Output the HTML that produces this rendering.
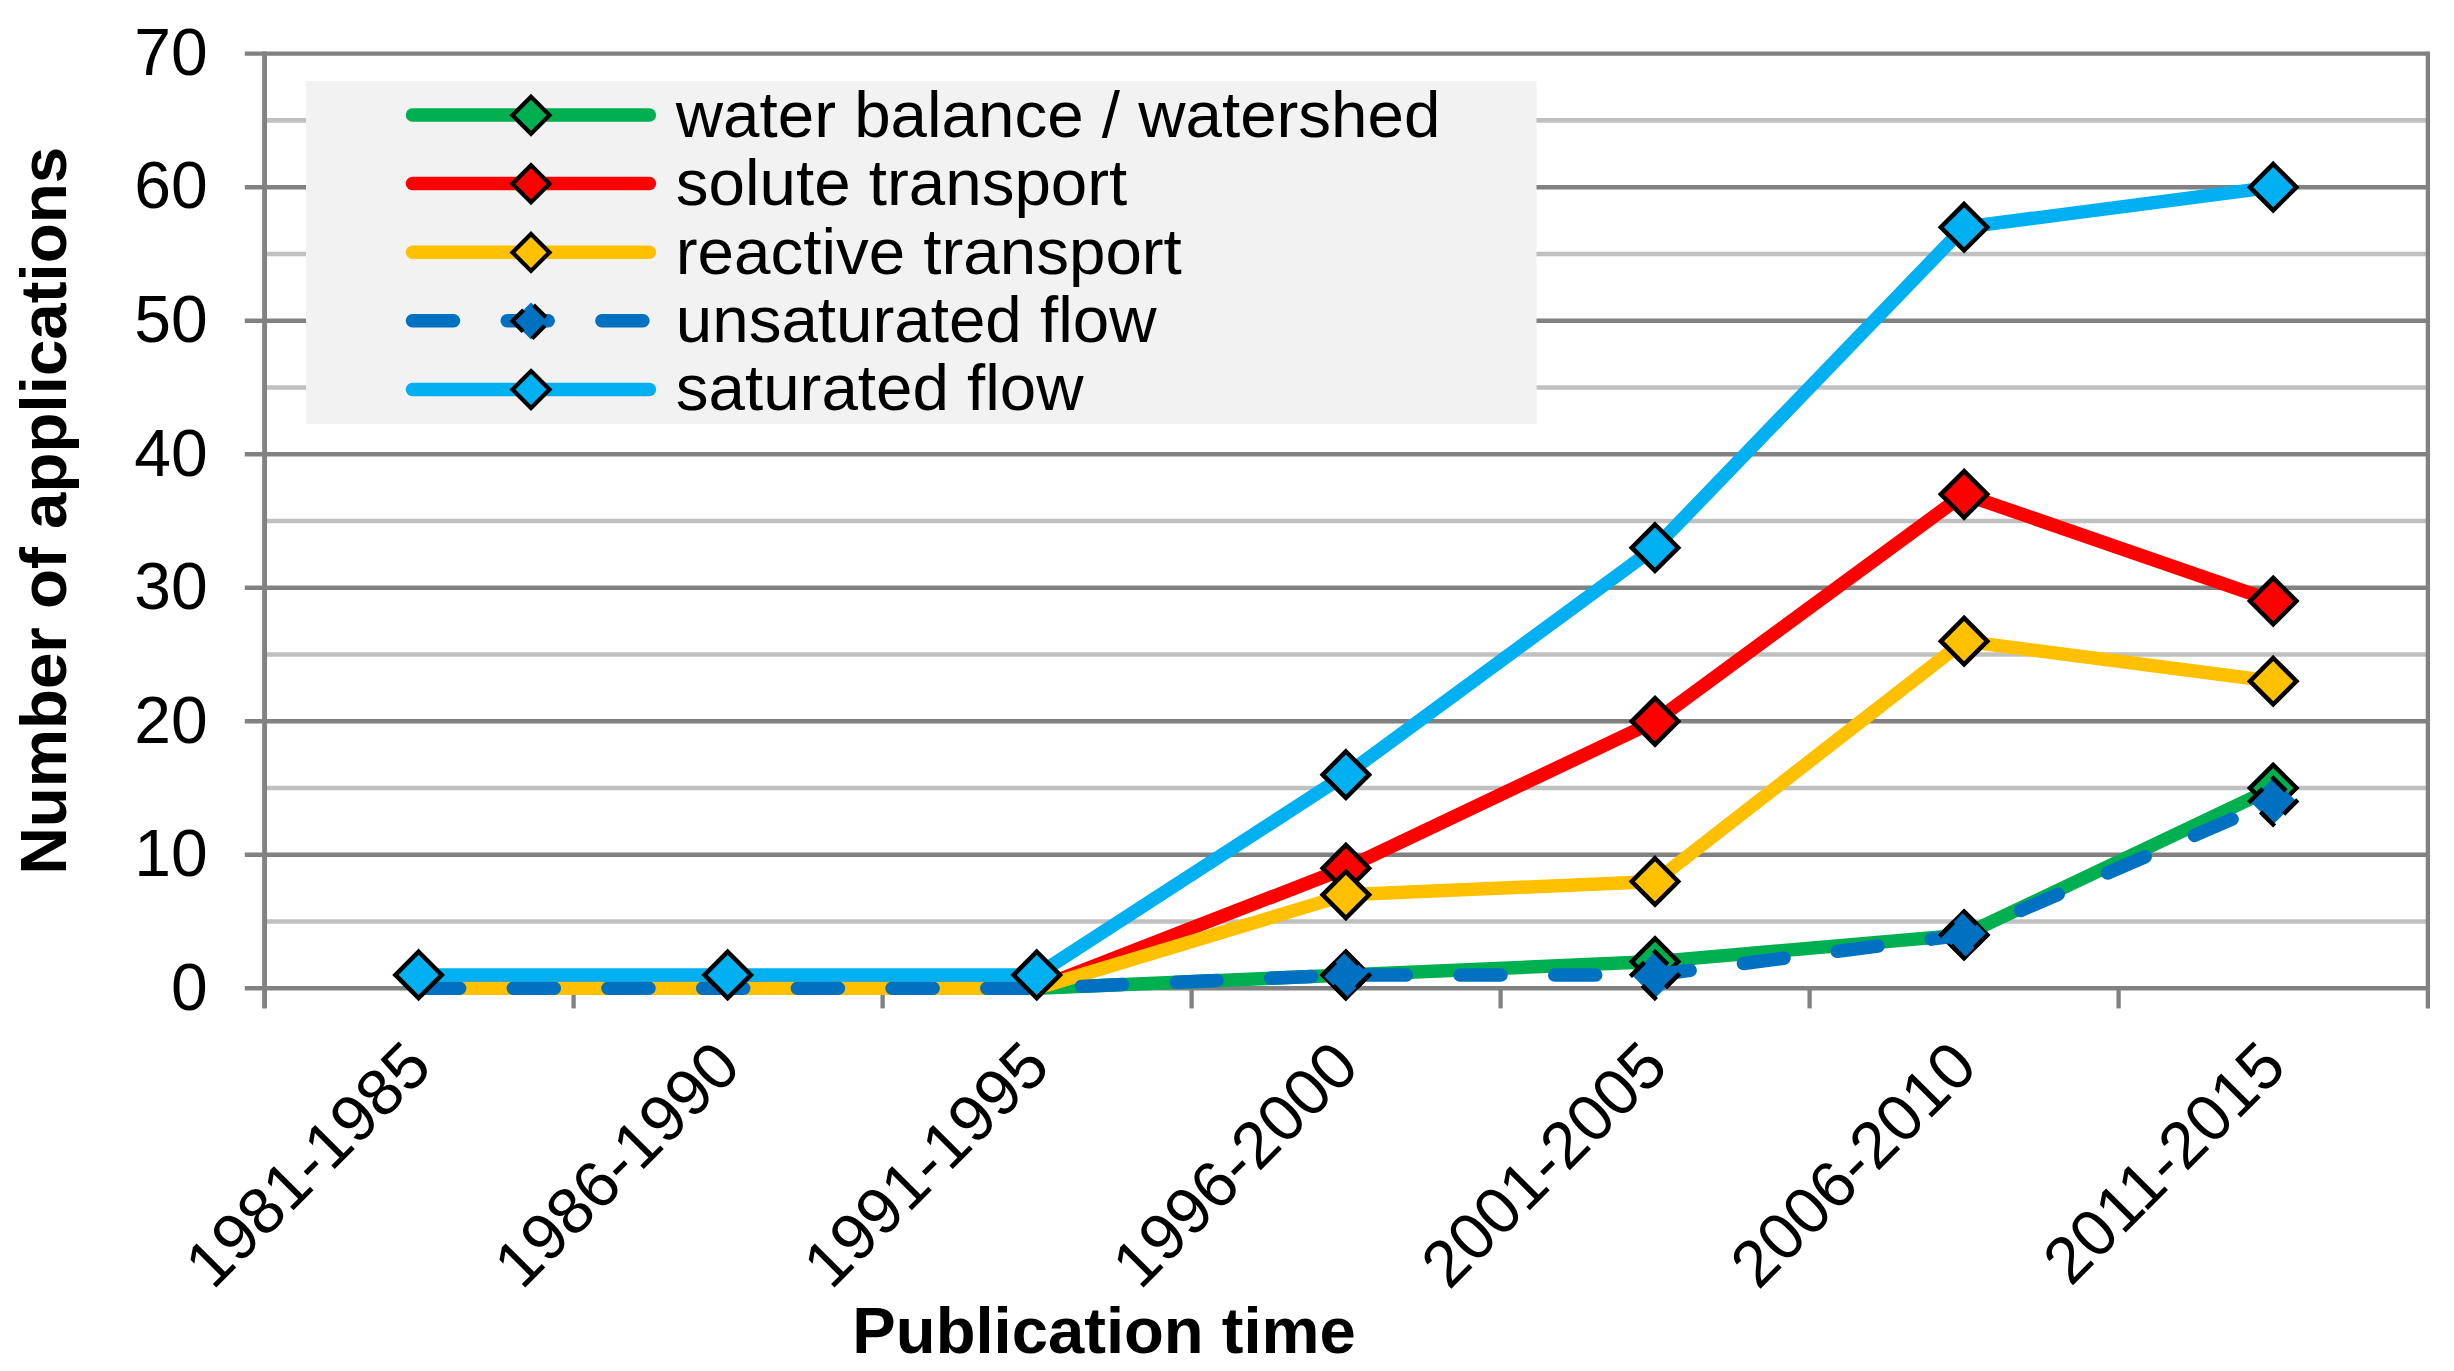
<!DOCTYPE html>
<html lang="en"><head><meta charset="utf-8"><title>Number of applications by publication time</title>
<style>html,body{margin:0;padding:0;background:#fff}svg{display:block}text{font-family:"Liberation Sans",sans-serif;fill:#000}</style></head>
<body>
<svg width="2454" height="1371" viewBox="0 0 2454 1371">
<rect width="2454" height="1371" fill="#fff"/>
<g stroke="#c0c0c0" stroke-width="4.6" fill="none">
<line x1="264.6" y1="921.54" x2="2427.9" y2="921.54"/>
<line x1="264.6" y1="788.02" x2="2427.9" y2="788.02"/>
<line x1="264.6" y1="654.5" x2="2427.9" y2="654.5"/>
<line x1="264.6" y1="520.98" x2="2427.9" y2="520.98"/>
<line x1="264.6" y1="387.46" x2="2427.9" y2="387.46"/>
<line x1="264.6" y1="253.94" x2="2427.9" y2="253.94"/>
<line x1="264.6" y1="120.42" x2="2427.9" y2="120.42"/>
</g>
<g stroke="#818181" stroke-width="4.4" fill="none">
<line x1="244.8" y1="988.3" x2="2427.9" y2="988.3"/>
<line x1="244.8" y1="854.78" x2="2427.9" y2="854.78"/>
<line x1="244.8" y1="721.26" x2="2427.9" y2="721.26"/>
<line x1="244.8" y1="587.74" x2="2427.9" y2="587.74"/>
<line x1="244.8" y1="454.22" x2="2427.9" y2="454.22"/>
<line x1="244.8" y1="320.7" x2="2427.9" y2="320.7"/>
<line x1="244.8" y1="187.18" x2="2427.9" y2="187.18"/>
<line x1="244.8" y1="53.66" x2="2427.9" y2="53.66"/>
<line x1="264.6" y1="51.45" x2="264.6" y2="1008.4" stroke-width="4.9"/>
<line x1="2427.9" y1="51.45" x2="2427.9" y2="1008.4" stroke-width="4.3"/>
<line x1="573.6" y1="988.3" x2="573.6" y2="1008.4" stroke-width="4.3"/>
<line x1="882.6" y1="988.3" x2="882.6" y2="1008.4" stroke-width="4.3"/>
<line x1="1191.6" y1="988.3" x2="1191.6" y2="1008.4" stroke-width="4.3"/>
<line x1="1500.6" y1="988.3" x2="1500.6" y2="1008.4" stroke-width="4.3"/>
<line x1="1809.6" y1="988.3" x2="1809.6" y2="1008.4" stroke-width="4.3"/>
<line x1="2118.6" y1="988.3" x2="2118.6" y2="1008.4" stroke-width="4.3"/>
</g>
<g font-size="66" text-anchor="end">
<text x="207.7" y="1009.6">0</text>
<text x="207.7" y="876.08">10</text>
<text x="207.7" y="742.56">20</text>
<text x="207.7" y="609.04">30</text>
<text x="207.7" y="475.52">40</text>
<text x="207.7" y="342.0">50</text>
<text x="207.7" y="208.48">60</text>
<text x="207.7" y="74.96">70</text>
</g>
<rect x="306" y="81" width="1230.5" height="343" fill="#f2f2f2"/>
<polyline points="418.6,988.3 727.7,988.3 1036.8,988.3 1345.9,974.95 1655.0,961.6 1964.1,934.89 2273.2,788.02" fill="none" stroke="#00b050" stroke-width="13.5" stroke-linecap="round" stroke-linejoin="round"/>
<g fill="#00b050" stroke="#000" stroke-width="4.5" stroke-linejoin="miter">
<path d="M1345.9 951.75L1369.1 974.95L1345.9 998.15L1322.7 974.95Z"/>
<path d="M1655.0 938.4L1678.2 961.6L1655.0 984.8L1631.8 961.6Z"/>
<path d="M1964.1 911.69L1987.3 934.89L1964.1 958.09L1940.9 934.89Z"/>
<path d="M2273.2 764.82L2296.4 788.02L2273.2 811.22L2250.0 788.02Z"/>
</g>
<polyline points="418.6,988.3 727.7,988.3 1036.8,988.3 1345.9,868.13 1655.0,721.26 1964.1,494.28 2273.2,601.09" fill="none" stroke="#ff0000" stroke-width="13.5" stroke-linecap="round" stroke-linejoin="round"/>
<g fill="#ff0000" stroke="#000" stroke-width="4.5" stroke-linejoin="miter">
<path d="M1345.9 844.93L1369.1 868.13L1345.9 891.33L1322.7 868.13Z"/>
<path d="M1655.0 698.06L1678.2 721.26L1655.0 744.46L1631.8 721.26Z"/>
<path d="M1964.1 471.08L1987.3 494.28L1964.1 517.48L1940.9 494.28Z"/>
<path d="M2273.2 577.89L2296.4 601.09L2273.2 624.29L2250.0 601.09Z"/>
</g>
<polyline points="418.6,988.3 727.7,988.3 1036.8,988.3 1345.9,894.84 1655.0,881.48 1964.1,641.15 2273.2,681.2" fill="none" stroke="#ffc000" stroke-width="13.5" stroke-linecap="round" stroke-linejoin="round"/>
<g fill="#ffc000" stroke="#000" stroke-width="4.5" stroke-linejoin="miter">
<path d="M1345.9 871.64L1369.1 894.84L1345.9 918.04L1322.7 894.84Z"/>
<path d="M1655.0 858.28L1678.2 881.48L1655.0 904.68L1631.8 881.48Z"/>
<path d="M1964.1 617.95L1987.3 641.15L1964.1 664.35L1940.9 641.15Z"/>
<path d="M2273.2 658.0L2296.4 681.2L2273.2 704.4L2250.0 681.2Z"/>
</g>
<polyline points="418.6,988.3 727.7,988.3 1036.8,988.3 1345.9,974.95 1655.0,974.95 1964.1,934.89 2273.2,801.37" fill="none" stroke="#0070c0" stroke-width="13.5" stroke-linecap="round" stroke-linejoin="round" stroke-dasharray="41 53.7"/>
<g fill="#0070c0" stroke="#000" stroke-width="4.5" stroke-linejoin="miter">
<path d="M1345.9 951.75L1369.1 974.95L1345.9 998.15L1322.7 974.95Z" stroke="none"/><path d="M1344.49 950.34L1358.63 964.48M1370.51 973.54L1356.37 987.68M1347.31 999.56L1333.17 985.42M1321.29 976.36L1335.43 962.22" fill="none"/>
<path d="M1655.0 951.75L1678.2 974.95L1655.0 998.15L1631.8 974.95Z" stroke="none"/><path d="M1653.59 950.34L1667.73 964.48M1679.61 973.54L1665.47 987.68M1656.41 999.56L1642.27 985.42M1630.39 976.36L1644.53 962.22" fill="none"/>
<path d="M1964.1 911.69L1987.3 934.89L1964.1 958.09L1940.9 934.89Z" stroke="none"/><path d="M1962.69 910.28L1976.83 924.42M1988.71 933.48L1974.57 947.62M1965.51 959.5L1951.37 945.36M1939.49 936.3L1953.63 922.16" fill="none"/>
<path d="M2273.2 778.17L2296.4 801.37L2273.2 824.57L2250.0 801.37Z" stroke="none"/><path d="M2271.79 776.76L2285.93 790.9M2297.81 799.96L2283.67 814.1M2274.61 825.98L2260.47 811.84M2248.59 802.78L2262.73 788.64" fill="none"/>
</g>
<polyline points="418.6,974.95 727.7,974.95 1036.8,974.95 1345.9,774.67 1655.0,547.68 1964.1,227.24 2273.2,187.18" fill="none" stroke="#00b0f0" stroke-width="13.5" stroke-linecap="round" stroke-linejoin="round"/>
<g fill="#00b0f0" stroke="#000" stroke-width="4.5" stroke-linejoin="miter">
<path d="M418.6 951.75L441.8 974.95L418.6 998.15L395.4 974.95Z"/>
<path d="M727.7 951.75L750.9 974.95L727.7 998.15L704.5 974.95Z"/>
<path d="M1036.8 951.75L1060.0 974.95L1036.8 998.15L1013.6 974.95Z"/>
<path d="M1345.9 751.47L1369.1 774.67L1345.9 797.87L1322.7 774.67Z"/>
<path d="M1655.0 524.48L1678.2 547.68L1655.0 570.88L1631.8 547.68Z"/>
<path d="M1964.1 204.04L1987.3 227.24L1964.1 250.44L1940.9 227.24Z"/>
<path d="M2273.2 163.98L2296.4 187.18L2273.2 210.38L2250.0 187.18Z"/>
</g>
<line x1="412.5" y1="115.0" x2="649.4" y2="115.0" stroke="#00b050" stroke-width="13.5" stroke-linecap="round"/>
<g fill="#00b050" stroke="#000" stroke-width="4.2"><path d="M531 96.7L549.5 115.2L531 133.7L512.5 115.2Z"/></g>
<text x="675.8" y="136.9" font-size="65.5">water balance / watershed</text>
<line x1="412.5" y1="183.6" x2="649.4" y2="183.6" stroke="#ff0000" stroke-width="13.5" stroke-linecap="round"/>
<g fill="#ff0000" stroke="#000" stroke-width="4.2"><path d="M531 165.3L549.5 183.8L531 202.3L512.5 183.8Z"/></g>
<text x="675.8" y="205.2" font-size="65.5">solute transport</text>
<line x1="412.5" y1="252.2" x2="649.4" y2="252.2" stroke="#ffc000" stroke-width="13.5" stroke-linecap="round"/>
<g fill="#ffc000" stroke="#000" stroke-width="4.2"><path d="M531 233.9L549.5 252.4L531 270.9L512.5 252.4Z"/></g>
<text x="675.8" y="273.5" font-size="65.5">reactive transport</text>
<line x1="412.5" y1="320.8" x2="649.4" y2="320.8" stroke="#0070c0" stroke-width="13.5" stroke-linecap="round" stroke-dasharray="41 53.7"/>
<g fill="#0070c0" stroke="#000" stroke-width="4.2"><path d="M531 302.5L549.5 321.0L531 339.5L512.5 321.0Z" stroke="none"/><path d="M511.09 322.41L523.6 309.9M533.47 304.97L545.85 317.35M511.09 319.59L523.11 331.61M532.06 338.44L544.79 325.71" fill="none"/></g>
<text x="675.8" y="341.8" font-size="65.5">unsaturated flow</text>
<line x1="412.5" y1="389.4" x2="649.4" y2="389.4" stroke="#00b0f0" stroke-width="13.5" stroke-linecap="round"/>
<g fill="#00b0f0" stroke="#000" stroke-width="4.2"><path d="M531 371.1L549.5 389.6L531 408.1L512.5 389.6Z"/></g>
<text x="675.8" y="410.1" font-size="65.5">saturated flow</text>
<g font-size="65.5" text-anchor="end">
<text transform="translate(434.2 1069.4) rotate(-45)">1981-1985</text>
<text transform="translate(743.3 1069.4) rotate(-45)">1986-1990</text>
<text transform="translate(1052.4 1069.4) rotate(-45)">1991-1995</text>
<text transform="translate(1361.5 1069.4) rotate(-45)">1996-2000</text>
<text transform="translate(1670.6 1069.4) rotate(-45)">2001-2005</text>
<text transform="translate(1979.7 1069.4) rotate(-45)">2006-2010</text>
<text transform="translate(2288.8 1069.4) rotate(-45)">2011-2015</text>
</g>
<text x="1104.1" y="1353.1" font-size="65.2" font-weight="bold" text-anchor="middle">Publication time</text>
<text transform="translate(65.5 510.7) rotate(-90)" font-size="65.5" font-weight="bold" text-anchor="middle">Number of applications</text>
</svg>
</body></html>
